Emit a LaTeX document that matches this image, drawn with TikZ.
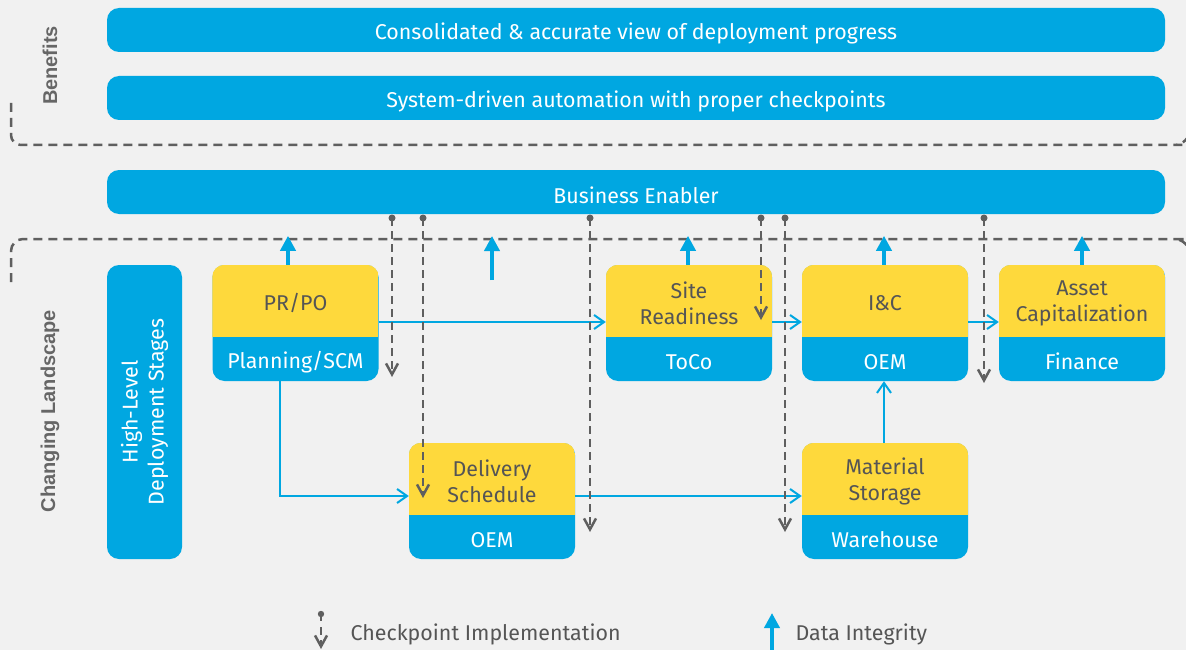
\documentclass[tikz,border=0pt]{standalone}
\usepackage{fontspec}
\setmainfont{Fira Sans}
\newfontfamily\labelfont{Liberation Sans}
\usetikzlibrary{arrows.meta,calc}
\definecolor{cblue}{HTML}{00A7E1}
\definecolor{cyel}{HTML}{FED93C}
\definecolor{cbg}{HTML}{F1F1F1}
\definecolor{ctext}{HTML}{555555}
\definecolor{cdash}{HTML}{5F5F5F}
\definecolor{clabel}{HTML}{666666}
\newcommand\stagebox[5]{%
  \node[stagenode] (#1) at (#2,#3) {};
  \begin{scope}
    \clip[rounded corners=12pt] (#1.south west) rectangle (#1.north east);
    \fill[cyel] (#1.north west) rectangle ([yshift=44pt]#1.south east);
  \end{scope}
  \node[toptext] (#1t) at ($(#1.north)!0.5!([yshift=44pt]#1.south)$) {#4};
  \node[bottext] (#1b) at ([yshift=22pt]#1.south) {#5};
}
\begin{document}
\begin{tikzpicture}[x=1pt,y=-1pt,
  txt/.style={font=\fontsize{21.4}{26}\selectfont},
  bar/.style={fill=cblue, rounded corners=12pt, minimum width=1058pt, minimum height=44pt, inner sep=0pt},
  bartext/.style={text=white, txt, yshift=-3pt},
  stagenode/.style={fill=cblue, rounded corners=12pt, minimum width=166pt, minimum height=116pt, inner sep=0pt},
  toptext/.style={text=ctext, align=center, txt, yshift=-2pt},
  bottext/.style={text=white, txt, yshift=-2.5pt},
  sidelabel/.style={rotate=90, text=clabel, font=\labelfont\bfseries\fontsize{20}{24}\selectfont},
  flow/.style={draw=cblue, line width=2pt, -{Straight Barb[length=10pt,width=14pt]}},
  check/.style={draw=cdash, line width=2.5pt, dash pattern=on 8pt off 5pt, -{Straight Barb[length=11pt,width=12pt]}},
  dint/.style={draw=cblue, line width=4.5pt, -{Triangle[length=15pt,width=15pt]}},
  bracket/.style={draw=cdash, line width=2.5pt, dash pattern=on 9pt off 6pt},
  cpdot/.style={fill=cdash}
]
\fill[cbg] (0,0) rectangle (1186,650);
\useasboundingbox (0,0) rectangle (1186,650);
\clip (0,0) rectangle (1186,650);

% side labels
\node[sidelabel] (lbben) at (50,65.5) {Benefits};
\node[sidelabel] (lbcl) at (50,411) {Changing Landscape};

% brackets
\draw[bracket] (11,103) [rounded corners=10pt] -- (11,145) -- (1174,145) [rounded corners=16pt] -- (1190,145) -- (1190,90);
\draw[bracket] (11,282) [rounded corners=12pt] -- (11,239) -- (1174,239) [rounded corners=16pt] -- (1190,239) -- (1190,300);

% bars
\node[bar] (b1) at (636,30) {};
\node[bartext] (b1t) at (b1) {Consolidated \& accurate view of deployment progress};
\node[bar] (b2) at (636,98) {};
\node[bartext] (b2t) at (b2) {System-driven automation with proper checkpoints};
\node[bar] (be) at (636,192) {};
\node[bartext] (bet) at (be) {Business Enabler};

% high-level box
\node[fill=cblue, rounded corners=12pt, minimum width=75pt, minimum height=294pt, inner sep=0pt] (hl) at (144.5,412) {};
\node[rotate=90, text=white, align=center, txt] (hlt) at (hl) {High-Level\\Deployment Stages};

% stages
\stagebox{pr}{295.5}{323}{PR/PO}{Planning/SCM}
\stagebox{sr}{689}{323}{Site\\Readiness}{ToCo}
\stagebox{ic}{885}{323}{I\&C}{OEM}
\stagebox{ac}{1082}{323}{Asset\\Capitalization}{Finance}
\stagebox{ds}{492}{501}{Delivery\\Schedule}{OEM}
\stagebox{ms}{885}{501}{Material\\Storage}{Warehouse}

% flow connectors
\draw[flow] ([yshift=1pt]pr.east) -- ([yshift=1pt]sr.west);
\draw[flow] ([yshift=1pt]sr.east) -- ([yshift=1pt]ic.west);
\draw[flow] ([yshift=1pt]ic.east) -- ([yshift=1pt]ac.west);
\draw[flow] ([xshift=-15.5pt]pr.south) |- ([yshift=5pt]ds.west);
\draw[flow] ([yshift=5pt]ds.east) -- ([yshift=5pt]ms.west);
\draw[flow] ([xshift=-1pt]ms.north) -- ([xshift=-1pt]ic.south);

% data integrity arrows
\coordinate (di0) at (492,280);
\draw[dint] ([xshift=-7.5pt]pr.north) -- ++(0,-29);
\draw[dint] (di0) -- ++(0,-44);
\draw[dint] ([xshift=-1pt]sr.north) -- ++(0,-29);
\draw[dint] ([xshift=-1pt]ic.north) -- ++(0,-29);
\draw[dint] (ac.north) -- ++(0,-29);

% checkpoint lines
\foreach \x/\yend [count=\i] in {392/377, 423/498, 590/532, 761/320, 785/532, 984/383}{
  \coordinate (cs\i) at (\x,218);
  \coordinate (ce\i) at (\x,\yend);
  \draw[check] (cs\i) -- (ce\i);
  \fill[cpdot] (cs\i) circle (3.5pt);
}

% legend
\coordinate (lg1) at (321,614);
\coordinate (lg2) at (321,621);
\coordinate (lg3) at (321,627);
\coordinate (lg4) at (321,649);
\fill[cpdot] (lg1) circle (3.2pt);
\draw[cdash, line width=2.5pt] (lg1) -- (lg2);
\draw[check] (lg3) -- (lg4);
\node[anchor=west, text=ctext, txt, yshift=-2pt] (lgt1) at (347,632) {Checkpoint Implementation};
\coordinate (lg5) at (772,660);
\coordinate (lg6) at (772,613);
\draw[dint] (lg5) -- (lg6);
\node[anchor=west, text=ctext, txt, yshift=-2pt] (lgt2) at (792,632) {Data Integrity};
\end{tikzpicture}
\end{document}
